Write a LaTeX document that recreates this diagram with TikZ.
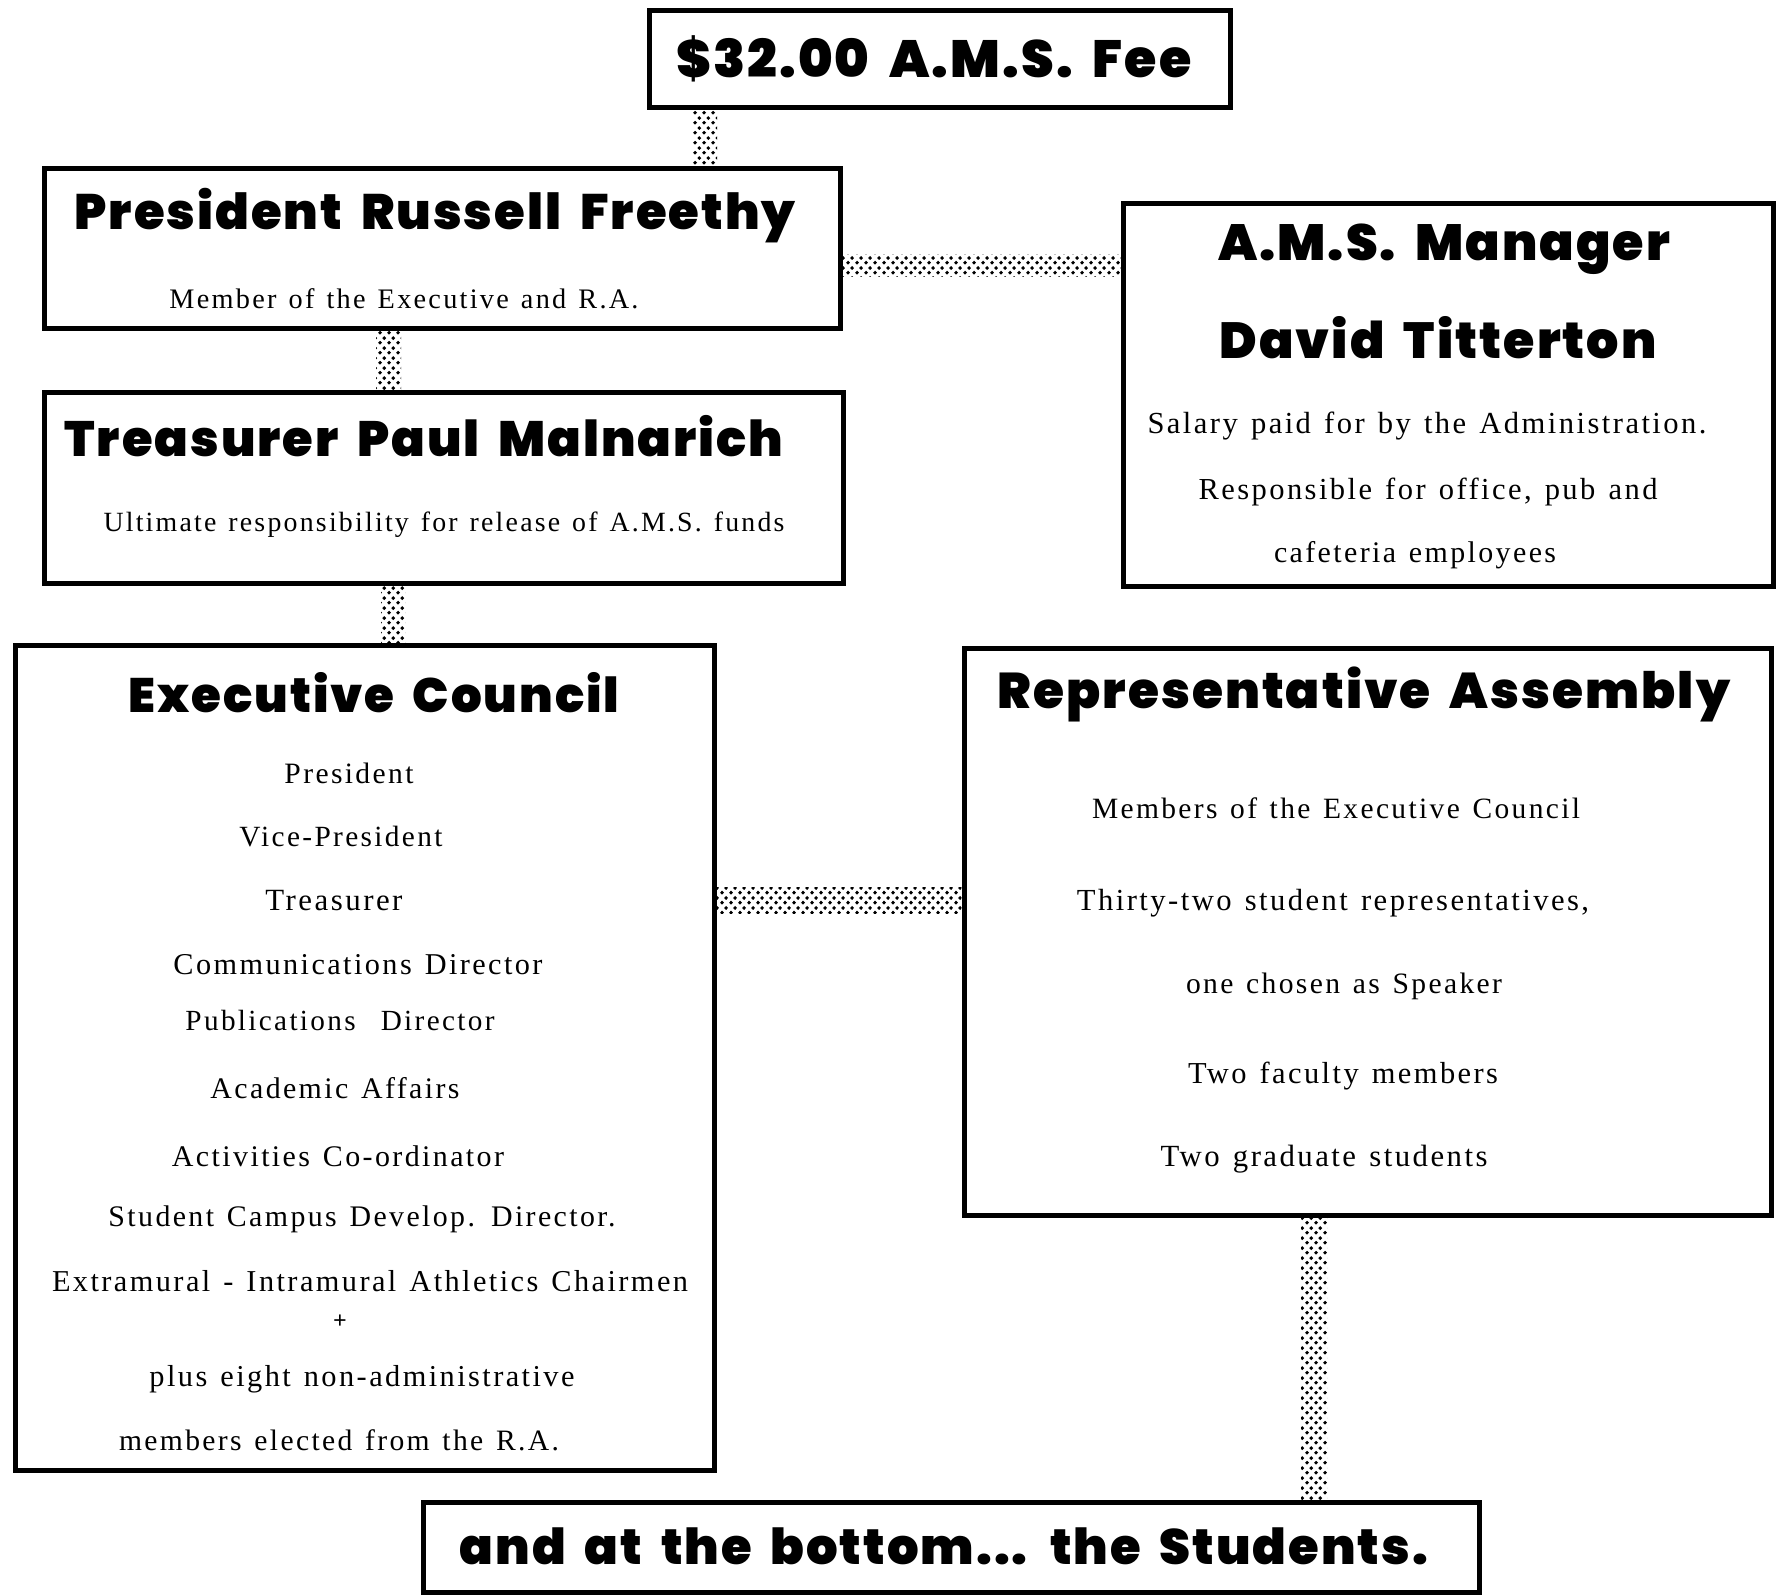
\documentclass[tikz,border=0pt]{standalone}
\usepackage{fontspec}
\usepackage{graphicx}
\setmainfont{Liberation Serif}[LetterSpace=8, WordSpace=1.3]
\newfontfamily\titlefont{Poppins Black}[LetterSpace=4, WordSpace=1.8]
\usetikzlibrary{patterns.meta}
\tikzdeclarepattern{
  name=halftone,
  type=uncolored,
  bounding box={(0pt,0pt) and (9pt,10pt)},
  tile size={(9pt,10pt)},
  code={\fill (2.25pt,2.5pt) circle (2.1pt); \fill (6.75pt,7.5pt) circle (2.1pt);}
}
\newcommand{\fitw}[2]{\resizebox{#1}{!}{#2}}
\begin{document}
\begin{tikzpicture}[x=1pt,y=-1pt,
  box/.style={draw, line width=5pt, inner sep=0pt},
  ttl/.style={font=\titlefont\fontsize{40}{48}\selectfont, inner sep=0pt},
  txt/.style={font=\fontsize{24}{28}\selectfont, inner sep=0pt},
  conn/.style={pattern=halftone, pattern color=black}]
\fill[white] (0,0) rectangle (1781,1595);
\useasboundingbox (0,0) rectangle (1781,1595);

% boxes
\node[box, minimum width=581pt, minimum height=96pt]  (fee)   at (939.5,59) {};
\node[box, minimum width=796pt, minimum height=160pt] (pres)  at (442,248) {};
\node[box, minimum width=650pt, minimum height=383pt] (mgr)   at (1448,394.5) {};
\node[box, minimum width=799pt, minimum height=191pt] (treas) at (443.5,487.5) {};
\node[box, minimum width=699pt, minimum height=825pt] (exec)  at (364.5,1057.5) {};
\node[box, minimum width=807pt, minimum height=567pt] (ra)    at (1367.5,931.5) {};
\node[box, minimum width=1056pt, minimum height=90pt] (stud)  at (951,1547) {};

% connector guides
\coordinate (c1a) at (693,0);  \coordinate (c1b) at (717,0);
\coordinate (c2a) at (0,254);  \coordinate (c2b) at (0,276);
\coordinate (c3a) at (376,0);  \coordinate (c3b) at (401,0);
\coordinate (c4a) at (381,0);  \coordinate (c4b) at (405,0);
\coordinate (c5a) at (0,887);  \coordinate (c5b) at (0,913);
\coordinate (c6a) at (1301,0); \coordinate (c6b) at (1327,0);

% connectors
\fill[conn] (fee.south -| c1a) rectangle (pres.north -| c1b);
\fill[conn] (pres.east |- c2a) rectangle (mgr.west |- c2b);
\fill[conn] (pres.south -| c3a) rectangle (treas.north -| c3b);
\fill[conn] (treas.south -| c4a) rectangle (exec.north -| c4b);
\fill[conn] (exec.east |- c5a) rectangle (ra.west |- c5b);
\fill[conn] (ra.south -| c6a) rectangle (stud.north -| c6b);

% fee
\node[ttl] (feet) at (934,59) {\fitw{515pt}{\$32.00 A.M.S. Fee}};
% president
\node[ttl] (prest) at (435,216) {\fitw{721pt}{President Russell Freethy}};
\node[txt] (press) at (404,299) {\fitw{469pt}{Member of the Executive and R.A.}};
% treasurer
\node[ttl] (treast) at (424,436) {\fitw{719pt}{Treasurer Paul Malnarich}};
\node[txt] (treass) at (444,525) {\fitw{681pt}{Ultimate responsibility for release of A.M.S. funds}};
% manager
\node[ttl] (mgrt1) at (1444,249) {\fitw{452pt}{A.M.S. Manager}};
\node[ttl] (mgrt2) at (1438,338) {\fitw{437pt}{David Titterton}};
\node[txt] (mgrs1) at (1427,426) {\fitw{559pt}{Salary paid for by the Administration.}};
\node[txt] (mgrs2) at (1428,492) {\fitw{459pt}{Responsible for office, pub and}};
\node[txt] (mgrs3) at (1415,555) {\fitw{282pt}{cafeteria employees}};
% executive council
\node[ttl] (exect) at (374,693) {\fitw{491pt}{Executive Council}};
\node[txt] (ex1)  at (349,773)  {\fitw{129pt}{President}};
\node[txt] (ex2)  at (341,837)  {\fitw{203pt}{Vice-President}};
\node[txt] (ex3)  at (334,901)  {\fitw{137pt}{Treasurer}};
\node[txt] (ex4)  at (358,965)  {\fitw{369pt}{Communications Director}};
\node[txt] (ex5)  at (340,1020) {\fitw{309pt}{Publications\ \ Director}};
\node[txt] (ex6)  at (335,1088) {\fitw{249pt}{Academic Affairs}};
\node[txt] (ex7)  at (338,1156) {\fitw{332pt}{Activities Co-ordinator}};
\node[txt] (ex8)  at (362,1219) {\fitw{507pt}{Student Campus Develop. Director.}};
\node[txt] (ex9)  at (370,1281) {\fitw{636pt}{Extramural - Intramural Athletics Chairmen}};
\node[txt] (ex10) at (341,1322) {\textbf{+}};
\node[txt] (ex11) at (362,1379) {\fitw{425pt}{plus eight non-administrative}};
\node[txt] (ex12) at (339,1440) {\fitw{440pt}{members elected from the R.A.}};
% representative assembly
\node[ttl] (rat) at (1364,694) {\fitw{732pt}{Representative Assembly}};
\node[txt] (ra1) at (1336,808)  {\fitw{488pt}{Members of the Executive Council}};
\node[txt] (ra2) at (1333,903)  {\fitw{512pt}{Thirty-two student representatives,}};
\node[txt] (ra3) at (1344,986)  {\fitw{316pt}{one chosen as Speaker}};
\node[txt] (ra4) at (1343,1076) {\fitw{310pt}{Two faculty members}};
\node[txt] (ra5) at (1324,1159) {\fitw{327pt}{Two graduate students}};
% students
\node[ttl] (studt) at (944,1546) {\fitw{968pt}{and at the bottom... the Students.}};
\end{tikzpicture}
\end{document}
